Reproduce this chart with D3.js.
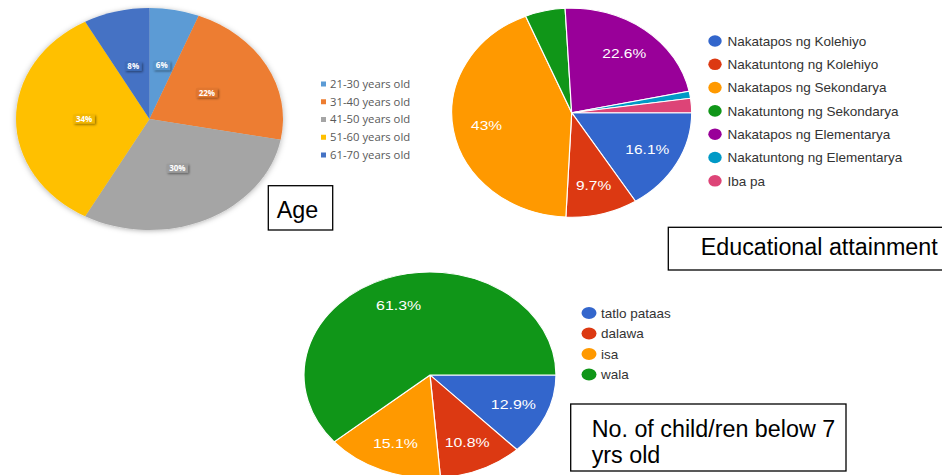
<!DOCTYPE html>
<html>
<head>
<meta charset="utf-8">
<script src="https://cdn.jsdelivr.net/npm/d3@7"></script>
<style>
body { margin: 0; background: #fff; }
svg { display: block; }
</style>
</head>
<body>
<svg id="chart" width="942" height="475"></svg>
<script>

// Age
var ageLabels = ["21-30 years old", "31-40 years old", "41-50 years old", "51-60 years old", "61-70 years old"];
var ageValues = [6, 22, 30, 34, 8];

// Educational attainment
var eduLabels = ["Nakatapos ng Kolehiyo", "Nakatuntong ng Kolehiyo", "Nakatapos ng Sekondarya",
                 "Nakatuntong ng Sekondarya", "Nakatapos ng Elementarya", "Nakatuntong ng Elementarya", "Iba pa"];
var eduValues = [16.1, 9.7, 43, 5.4, 22.6, 1.1, 2.2];

// No. of child/ren below 7 yrs old
var childLabels = ["tatlo pataas", "dalawa", "isa", "wala"];
var childValues = [12.9, 10.8, 15.1, 61.3];

var ageColors = ["#5b9bd5", "#ed7d31", "#a5a5a5", "#ffc000", "#4472c4"];
var googleColors = ["#3366cc", "#dc3912", "#ff9900", "#109618", "#990099", "#0099c6", "#dd4477"];

var svg = d3.select("#chart");
svg.append("rect").attr("width", 942).attr("height", 475).attr("fill", "#fff");

var defs = svg.append("defs");
defs.append("filter").attr("id", "soft").attr("x", "-10%").attr("y", "-10%").attr("width", "120%").attr("height", "120%")
    .append("feDropShadow").attr("dx", 0).attr("dy", 1).attr("stdDeviation", 3)
    .attr("flood-color", "#000").attr("flood-opacity", 0.3);
defs.append("filter").attr("id", "tag").attr("x", "-30%").attr("y", "-50%").attr("width", "180%").attr("height", "220%")
    .append("feDropShadow").attr("dx", 1.2).attr("dy", 1.2).attr("stdDeviation", 0.8)
    .attr("flood-color", "#000").attr("flood-opacity", 0.45);

// ---- Age pie (office style, elliptical) ----
function agePie () {
    var cx = 149.5, cy = 119, rx = 133.5, ry = 111, k = ry / rx;
    var arcs = d3.pie().sort(null)(ageValues);
    var arc = d3.arc().innerRadius(0).outerRadius(rx);
    var labelArc = d3.arc().innerRadius(rx * 0.49).outerRadius(rx * 0.49);

    var g = svg.append("g").attr("transform", "translate(" + cx + "," + cy + ")");
    g.append("g")
        .attr("transform", "scale(1," + k + ")")
        .attr("filter", "url(#soft)")
        .selectAll("path")
        .data(arcs)
        .enter().append("path")
        .attr("d", arc)
        .attr("fill", function (d, i) { return ageColors[i]; });

    var tags = g.selectAll(".tag")
        .data(arcs)
        .enter().append("g")
        .attr("class", "tag")
        .attr("transform", function (d) {
            var c = labelArc.centroid(d);
            return "translate(" + c[0] + "," + (c[1] * k) + ")";
        });

    var rects = tags.append("rect").attr("filter", "url(#tag)");
    var texts = tags.append("text")
        .attr("text-anchor", "middle")
        .attr("dy", "0.35em")
        .style("font", "bold 8px 'Open Sans', sans-serif")
        .attr("fill", "#fff")
        .text(function (d) { return d.data + "%"; });

    texts.each(function (d, i) {
        var w = this.getComputedTextLength() + 5;
        d3.select(rects.nodes()[i])
            .attr("x", -w / 2).attr("y", -4.5)
            .attr("width", w).attr("height", 9)
            .attr("fill", d3.color(ageColors[i]).darker(0.15));
    });

    // legend
    var leg = svg.append("g").attr("transform", "translate(321,84)");
    var item = leg.selectAll("g")
        .data(ageLabels)
        .enter().append("g")
        .attr("transform", function (d, i) { return "translate(0," + (i * 17.75) + ")"; });
    item.append("rect")
        .attr("x", 0).attr("y", -2.5)
        .attr("width", 5).attr("height", 5)
        .attr("fill", function (d, i) { return ageColors[i]; });
    item.append("text")
        .attr("x", 9).attr("dy", "0.35em")
        .style("font", "11.3px 'Open Sans', sans-serif")
        .attr("fill", "#595959")
        .text(function (d) { return d; });
}

// ---- Google forms style pie ----
function googlePie (o) {
    var sx = o.rx / o.ry;
    var arcs = d3.pie().sort(null)
        .startAngle(Math.PI / 2)
        .endAngle(Math.PI / 2 + 2 * Math.PI)(o.values);
    var arc = d3.arc().innerRadius(0).outerRadius(o.ry);
    var labelArc = d3.arc().innerRadius(o.ry * 0.72).outerRadius(o.ry * 0.72);

    var g = svg.append("g")
        .attr("transform", "translate(" + o.cx + "," + o.cy + ") scale(" + sx + ",1)");

    g.selectAll("path")
        .data(arcs)
        .enter().append("path")
        .attr("d", arc)
        .attr("fill", function (d, i) { return googleColors[i]; })
        .attr("stroke", "#fff")
        .attr("stroke-width", 1);

    g.selectAll("text")
        .data(arcs.filter(function (d) { return d.data >= 9; }))
        .enter().append("text")
        .attr("transform", function (d) { return "translate(" + labelArc.centroid(d) + ")"; })
        .attr("text-anchor", "middle")
        .attr("dy", "0.35em")
        .style("font", o.labelSize + "px 'Liberation Sans', Arial, sans-serif")
        .attr("fill", "#fff")
        .text(function (d) { return d.data + "%"; });

    var leg = svg.append("g").attr("transform", "translate(" + o.legendX + "," + o.legendY + ")");
    var item = leg.selectAll("g")
        .data(o.labels)
        .enter().append("g")
        .attr("transform", function (d, i) { return "translate(0," + (i * o.legendStep) + ")"; });
    item.append("ellipse")
        .attr("rx", o.dotRx).attr("ry", o.dotRy)
        .attr("fill", function (d, i) { return googleColors[i]; });
    item.append("text")
        .attr("x", o.textDx).attr("dy", "0.35em")
        .style("font", "13.5px 'Liberation Sans', Arial, sans-serif")
        .attr("fill", "#333")
        .text(function (d) { return d; });
}

// ---- caption boxes ----
function caption (x, y, w, h, lines, tx, ty) {
    svg.append("rect")
        .attr("x", x).attr("y", y).attr("width", w).attr("height", h)
        .attr("fill", "#fff").attr("stroke", "#000").attr("stroke-width", 1.3);
    svg.append("g").selectAll("text")
        .data(lines)
        .enter().append("text")
        .attr("x", tx)
        .attr("y", function (d, i) { return ty + i * 26; })
        .style("font", "23.3px 'Liberation Sans', Arial, sans-serif")
        .attr("fill", "#000")
        .text(function (d) { return d; });
}

agePie();

googlePie({
    cx: 571.7, cy: 112.7, rx: 120, ry: 104.5,
    values: eduValues, labels: eduLabels, labelSize: 13.5,
    legendX: 715, legendY: 41, legendStep: 23.3, dotRx: 6.7, dotRy: 5.8, textDx: 12.5
});

googlePie({
    cx: 430, cy: 375, rx: 126, ry: 103,
    values: childValues, labels: childLabels, labelSize: 13,
    legendX: 589, legendY: 313, legendStep: 20.5, dotRx: 7.5, dotRy: 6, textDx: 12
});

caption(268.3, 185.7, 64.4, 44.3, ["Age"], 276.7, 217.7);
caption(668.3, 227.3, 290, 42.7, ["Educational attainment"], 700.7, 255);
caption(570.7, 404, 275.3, 67, ["No. of child/ren below 7", "yrs old"], 591.7, 436.7);

</script>
</body>
</html>
